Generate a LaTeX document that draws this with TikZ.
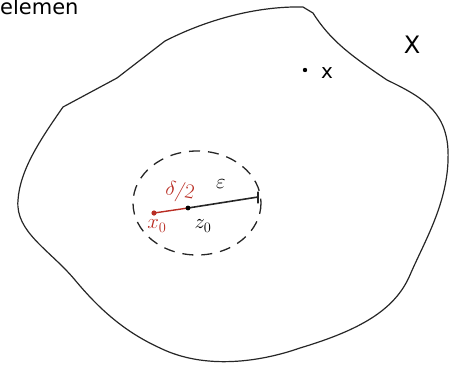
\documentclass[tikz,border=0pt]{standalone}
\usepackage{fontspec}
\setmainfont{DejaVu Sans}
\usetikzlibrary{calc}
\definecolor{redink}{RGB}{185,45,35}
\tikzset{
  ink/.style={draw=black!85, line width=1.2pt, line cap=round, line join=round},
  dashink/.style={draw=black!85, line width=1.3pt, dash pattern=on 11pt off 8pt},
  lbl/.style={font=\fontsize{21}{23}\selectfont, inner sep=0pt},
}
\begin{document}
\begin{tikzpicture}[x=1pt,y=-1pt]
\useasboundingbox (0,0) rectangle (453,368);
\clip (0,0) rectangle (453,368);
% top-left word
\node[font=\fontsize{21}{23}\selectfont, anchor=west, inner sep=0pt] (word) at (0,7) {elemen};
% big region
\draw[ink] (63,107) -- (117,78) -- (165,41)
  .. controls (210,18) and (260,6) .. (303,7) -- (313,13)
  .. controls (330,40) and (350,55) .. (387,80)
  .. controls (420,96) and (446,110) .. (448,150)
  .. controls (450,200) and (425,240) .. (410,275)
  .. controls (395,310) and (360,330) .. (300,348)
  .. controls (260,362) and (205,370) .. (160,348)
  .. controls (125,332) and (100,310) .. (75,280)
  .. controls (50,250) and (15,232) .. (18,200)
  .. controls (20,170) and (40,140) .. cycle;
% dashed ball
\draw[dashink] (197,203) ellipse [x radius=64, y radius=52];
% points
\coordinate (z0) at (188,208);
\coordinate (x0) at (154,213);
\coordinate (rend) at (258,197);
\draw[ink, line width=1.6pt] (z0) -- (rend);
\draw[ink] ($(rend)+(0,-5)$) coordinate (t1) -- ($(rend)+(0,6)$) coordinate (t2);
\draw[draw=redink, line width=1.4pt] (x0) -- (z0);
\fill[redink] (x0) circle (2.6);
\fill[black] (z0) circle (2.4);
\node[lbl, text=redink, rotate=-10] (half) at (180,192) {$\delta/2$};
\node[lbl] (eps) at (221,184) {$\varepsilon$};
\node[lbl] (zlab) at (203,226) {$z_0$};
\node[lbl, text=redink] (xlab) at (157,226) {$x_0$};
% point x and set X
\fill[black] (305,70) circle (2.2);
\node[font=\fontsize{20}{22}\selectfont, inner sep=0pt] (xpt) at (327,73) {x};
\node[font=\fontsize{24}{26}\selectfont, inner sep=0pt] (Xset) at (412,45) {X};
\end{tikzpicture}
\end{document}
